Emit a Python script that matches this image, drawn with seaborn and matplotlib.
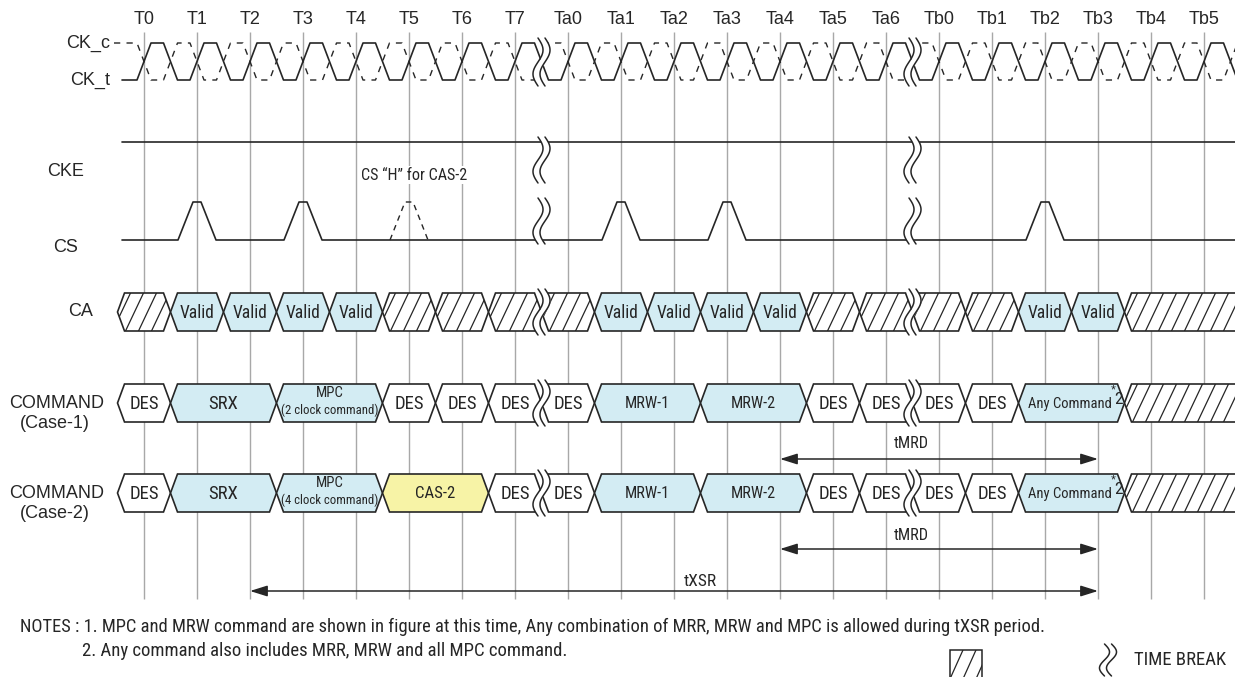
import numpy as np
import pandas as pd
import matplotlib
matplotlib.use("Agg")
import matplotlib.pyplot as plt
from matplotlib import font_manager
from matplotlib.font_manager import FontProperties
from matplotlib.patches import Polygon
import seaborn as sns

# ---------------- data ----------------
clock_labels = ["T0", "T1", "T2", "T3", "T4", "T5", "T6", "T7",
                "Ta0", "Ta1", "Ta2", "Ta3", "Ta4", "Ta5", "Ta6",
                "Tb0", "Tb1", "Tb2", "Tb3", "Tb4", "Tb5"]
time_breaks = [7.5, 14.5]
cs_high_clocks = [1, 3, 9, 11, 17]
cs_optional_clocks = [5]
ca_segments = [("X", 1), ("Valid", 1), ("Valid", 1), ("Valid", 1), ("Valid", 1),
               ("X", 1), ("X", 1), ("X", 1), ("X", 1),
               ("Valid", 1), ("Valid", 1), ("Valid", 1), ("Valid", 1),
               ("X", 1), ("X", 1), ("X", 1), ("X", 1),
               ("Valid", 1), ("Valid", 1), ("X", 3)]
cmd1_segments = [("DES", 1), ("SRX", 2), ("MPC\n(2 clock command)", 2),
                 ("DES", 1), ("DES", 1), ("DES", 1), ("DES", 1),
                 ("MRW-1", 2), ("MRW-2", 2), ("DES", 1), ("DES", 1),
                 ("DES", 1), ("DES", 1), ("Any Command", 2), ("X", 3)]
cmd2_segments = [("DES", 1), ("SRX", 2), ("MPC\n(4 clock command)", 2),
                 ("CAS-2", 2), ("DES", 1), ("DES", 1),
                 ("MRW-1", 2), ("MRW-2", 2), ("DES", 1), ("DES", 1),
                 ("DES", 1), ("DES", 1), ("Any Command", 2), ("X", 3)]
footnote_marks = {"Any Command": "2"}
intervals = [("tMRD", 12, 18, "tmrd1"), ("tMRD", 12, 18, "tmrd2"), ("tXSR", 2, 18, "txsr")]
notes = ["NOTES : 1. MPC and MRW command are shown in figure at this time, Any combination of MRR, MRW and MPC is allowed during tXSR period.",
         "2. Any command also includes MRR, MRW and all MPC command."]
cs_note = "CS \u201cH\u201d for CAS-2"

# ---------------- style ----------------
sns.set_theme(style="white")


def pick(*names):
    for n in names:
        try:
            font_manager.findfont(FontProperties(family=n), fallback_to_default=False)
            return n
        except Exception:
            pass
    return "DejaVu Sans"


REG = pick("Liberation Sans", "Arial", "DejaVu Sans")
plt.rcParams["font.family"] = [REG, "DejaVu Sans"]


def find_narrow():
    tl = font_manager.fontManager.ttflist
    okw = (400, "normal", "regular", "book")
    for name in ["Liberation Sans Narrow", "Arial Narrow", "Roboto Condensed", "Noto Sans Condensed",
                 "Open Sans Condensed", "DejaVu Sans Condensed"]:
        for f in tl:
            if f.name == name and f.style == "normal" and f.weight in okw:
                return FontProperties(fname=f.fname)
    for name in ["Roboto", "Noto Sans", "Open Sans", "Liberation Sans", "DejaVu Sans"]:
        for f in tl:
            if (f.name == name and f.style == "normal" and f.weight in okw
                    and f.stretch in ("condensed", "semi-condensed", "extra-condensed", 375)):
                return FontProperties(fname=f.fname)
    return FontProperties(family=REG)


NAR_FP = find_narrow()

INK = "#262626"
GRID = "#a8a8a8"
BLUE = "#d3ecf3"
YELLOW = "#f7f3a6"

W, H = 1235, 677
X0, PITCH = 144.0, 53.0


def u(px):  # pixel x -> clock units
    return (px - X0) / PITCH


fig = plt.figure(figsize=(W / 100, H / 100), dpi=100)
ax = fig.add_axes([0, 0, 1, 1])
ax.set_xlim(u(0), u(W))
ax.set_ylim(H, 0)
ax.axis("off")
R = fig.canvas.get_renderer()

# target text widths (px), used to size condensed text
TW = {"Valid": 35, "DES": 33, "SRX": 33, "MRW-1": 45, "MRW-2": 45, "CAS-2": 40, "Any Command": 84,
      "MPC": 28, "(2 clock command)": 97, "(4 clock command)": 97, cs_note: 106, "tMRD": 35, "tXSR": 33,
      notes[0]: 1022, notes[1]: 494, "TIME BREAK": 100}


def ftext(x, y, s, max_size=13.5, **kw):
    fp = NAR_FP.copy()
    fp.set_size(max_size)
    kw.setdefault("color", INK)
    t = ax.text(x, y, s, fontproperties=fp, **kw)
    w = t.get_window_extent(R).width
    target = TW.get(s)
    if target and w > 0:
        size = min(max_size, max_size * target / w)
        fp2 = NAR_FP.copy()
        fp2.set_size(size)
        t.set_fontproperties(fp2)
    return t


n_clk = len(clock_labels)
ticks = np.arange(n_clk)

# vertical reference lines and clock labels
ax.vlines(ticks, 32, 599, color=GRID, lw=1.0, zorder=0)
for i, lab in enumerate(clock_labels):
    ax.text(i, 20, lab, ha="center", va="center", fontsize=13, color=INK)

# ---------------- clock ----------------
s = 7 / PITCH
CK_HI, CK_LO = 43, 80
xs, yt, yc_ = [u(122)], [CK_LO], [CK_HI]
for n in range(0, n_clk + 1):
    for dx, t_, c_ in [(-s, CK_LO, CK_HI), (s, CK_HI, CK_LO), (0.5 - s, CK_HI, CK_LO), (0.5 + s, CK_LO, CK_HI)]:
        xs.append(n + dx); yt.append(t_); yc_.append(c_)
ck = pd.DataFrame({"x": xs, "ck_t": yt, "ck_c": yc_})
sns.lineplot(data=ck, x="x", y="ck_t", ax=ax, sort=False, estimator=None, color=INK, lw=1.2, zorder=2)
ckc = ck.copy()
ckc.loc[0, "x"] = u(114)
sns.lineplot(data=ckc, x="x", y="ck_c", ax=ax, sort=False, estimator=None, color=INK, lw=1.0,
             linestyle=(0, (4.5, 4.5)), zorder=2)
ax.set_xlabel(""); ax.set_ylabel("")

# ---------------- CKE ----------------
CKE_Y = 142
sns.lineplot(x=[u(122), u(W + 5)], y=[CKE_Y, CKE_Y], ax=ax, sort=False, estimator=None, color=INK, lw=1.2)

# ---------------- CS ----------------
CS_LO, CS_HI = 240, 202
a1, a2 = 19 / PITCH, 4 / PITCH
cx, cy = [u(122)], [CS_LO]
for n in cs_high_clocks:
    cx += [n - a1, n - a2, n + a2, n + a1]
    cy += [CS_LO, CS_HI, CS_HI, CS_LO]
cx.append(u(W + 5)); cy.append(CS_LO)
sns.lineplot(x=cx, y=cy, ax=ax, sort=False, estimator=None, color=INK, lw=1.2)
for n in cs_optional_clocks:
    sns.lineplot(x=[n - a1, n - a2, n + a2, n + a1], y=[CS_LO, CS_HI, CS_HI, CS_LO], ax=ax, sort=False,
                 estimator=None, color=INK, lw=1.0, linestyle=(0, (4, 3.5)))
ftext(u(414), 175, cs_note, ha="center", va="center", bbox=dict(fc="white", ec="none", pad=1.0), zorder=3)


# ---------------- buses ----------------
def hatch(poly, a, b, y0, y1):
    step = 13 / PITCH
    lean = 18 / PITCH
    k = a - lean
    while k < b + step:
        ln, = ax.plot([k, k + lean], [y1, y0], color=INK, lw=0.9, zorder=3.5)
        ln.set_clip_path(poly)
        k += step


def bus(segs, yc, start=-0.5):
    h = 19
    a = start
    for lab, n in segs:
        b = a + n
        open_end = b > u(W)
        if open_end:
            pts = [(a, yc), (a + s, yc - h), (b + 1, yc - h), (b + 1, yc + h), (a + s, yc + h)]
        else:
            pts = [(a, yc), (a + s, yc - h), (b - s, yc - h), (b, yc), (b - s, yc + h), (a + s, yc + h)]
        if lab in ("X", "DES"):
            fc = "white"
        elif lab == "CAS-2":
            fc = YELLOW
        else:
            fc = BLUE
        poly = Polygon(pts, closed=True, fc=fc, ec=INK, lw=1.2, zorder=3, joinstyle="miter")
        ax.add_patch(poly)
        if lab == "X":
            hatch(poly, a, b if not open_end else u(W + 20), yc - h, yc + h)
        else:
            mid = (a + b) / 2
            if "\n" in lab:
                l1, l2 = lab.split("\n")
                ftext(mid, yc - 10, l1, max_size=11.5, ha="center", va="center", zorder=4)
                ftext(mid, yc + 7, l2, max_size=11.5, ha="center", va="center", zorder=4)
            elif lab in footnote_marks:
                ftext(mid + 40 / PITCH, yc + 1, lab, ha="right", va="center", zorder=4)
                ax.text(mid + 39 / PITCH, yc - 13, "*", ha="left", va="center", fontsize=9,
                        color=INK, zorder=4)
                ftext(mid + 43 / PITCH, yc - 3, footnote_marks[lab], max_size=12.5, ha="left", va="center",
                      zorder=4)
            else:
                ftext(mid, yc + 1, lab, ha="center", va="center", zorder=4)
        a = b


CA_Y, C1_Y, C2_Y = 312, 403, 493
bus(ca_segments, CA_Y)
bus(cmd1_segments, C1_Y)
bus(cmd2_segments, C2_Y)


# ---------------- time breaks ----------------
def tbreak(xb, yc, h=46):
    t = np.linspace(0, 1, 80)
    yy = yc - h / 2 + h * t
    wave = (5 / PITCH) * np.sin(2 * np.pi * t)
    xl = xb - 3.5 / PITCH + wave
    xr = xb + 3.5 / PITCH + wave
    ax.fill_betweenx(yy, xl, xr, color="white", zorder=5, lw=0)
    ax.plot(xl, yy, color=INK, lw=1.1, zorder=6)
    ax.plot(xr, yy, color=INK, lw=1.1, zorder=6)


for xb in time_breaks:
    tbreak(xb, 62, 48)
    tbreak(xb, 160, 46)
    tbreak(xb, 221, 46)
    tbreak(xb, CA_Y, 46)
    tbreak(xb, C1_Y, 46)
    tbreak(xb, C2_Y, 46)

# ---------------- row labels ----------------
lab_kw = dict(fontsize=13, color=INK, va="center")
ax.text(u(110), CK_HI, "CK_c", ha="right", **lab_kw)
ax.text(u(110), CK_LO, "CK_t", ha="right", **lab_kw)
ax.text(u(66), 172, "CKE", ha="center", **lab_kw)
ax.text(u(66), 247, "CS", ha="center", **lab_kw)
ax.text(u(81), CA_Y, "CA", ha="center", **lab_kw)
ax.text(u(57), C1_Y, "COMMAND", ha="center", **lab_kw)
ax.text(u(55), C1_Y + 21, "(Case-1)", ha="center", **lab_kw)
ax.text(u(57), C2_Y, "COMMAND", ha="center", **lab_kw)
ax.text(u(55), C2_Y + 21, "(Case-2)", ha="center", **lab_kw)

# ---------------- timing arrows ----------------
arrow_rows = {"tmrd1": (459, 443), "tmrd2": (549, 535), "txsr": (591, 581)}
for name, a, b, key in intervals:
    ya, yt_ = arrow_rows[key]
    ax.annotate("", xy=(b, ya), xytext=(a, ya),
                arrowprops=dict(arrowstyle="<|-|>,head_length=0.7,head_width=0.22", mutation_scale=15,
                                lw=1.1, color=INK, shrinkA=0, shrinkB=0), zorder=4)
    xt = u(911) if name == "tMRD" else u(700)
    ftext(xt, yt_, name, ha="center", va="center")

# ---------------- notes & legend ----------------
ftext(u(20), 627, notes[0], ha="left", va="center")
ftext(u(82), 651, notes[1], ha="left", va="center")

lg = Polygon([(u(950), 650), (u(982), 650), (u(982), 690), (u(950), 690)], closed=True, fc="white",
             ec=INK, lw=1.1, zorder=3)
ax.add_patch(lg)
hatch(lg, u(950), u(982), 650, 690)
tbreak(u(1108), 660, 32)
ftext(u(1134), 660, "TIME BREAK", ha="left", va="center")

fig.savefig("out.png", dpi=100, facecolor="white")
